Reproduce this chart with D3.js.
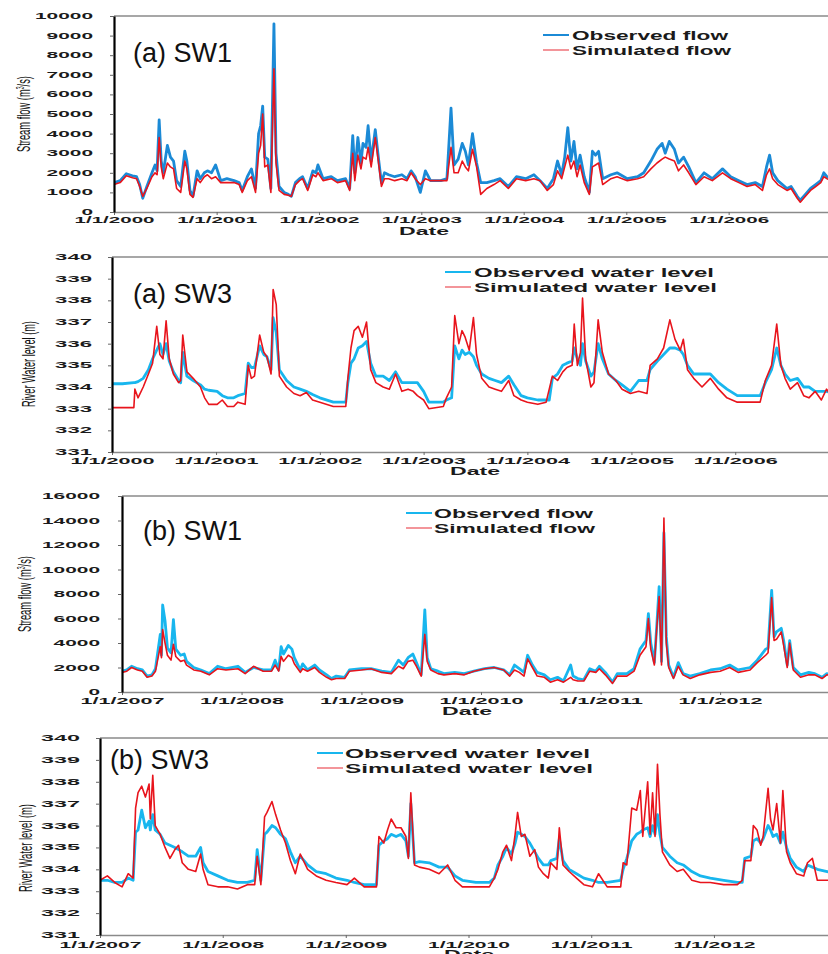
<!DOCTYPE html>
<html>
<head>
<meta charset="utf-8">
<script src="https://cdn.jsdelivr.net/npm/d3@7"></script>
<style>
  body { margin: 0; background: #fff; }
  svg { display: block; }
</style>
</head>
<body>
<svg id="chart" width="828" height="954"></svg>
<script>
// ---- data (decimal years) ----
// (a) SW1 stream flow 2000-2006
const sw1aDates = [
  2000.00,2000.06,2000.12,2000.18,2000.22,2000.25,2000.28,2000.32,2000.37,2000.40,
  2000.42,2000.44,2000.46,2000.48,2000.52,2000.55,2000.58,2000.61,2000.65,2000.69,
  2000.71,2000.74,2000.77,2000.81,2000.84,2000.88,2000.91,2000.95,2000.99,2001.04,
  2001.10,2001.17,2001.22,2001.25,2001.30,2001.34,2001.38,2001.41,2001.43,2001.45,
  2001.47,2001.50,2001.53,2001.56,2001.58,2001.61,2001.66,2001.70,2001.73,2001.77,
  2001.81,2001.84,2001.89,2001.94,2001.97,2001.99,2002.04,2002.12,2002.18,2002.26,
  2002.30,2002.33,2002.35,2002.38,2002.41,2002.43,2002.46,2002.48,2002.51,2002.55,
  2002.58,2002.61,2002.64,2002.68,2002.74,2002.81,2002.86,2002.90,2002.94,2002.99,
  2003.04,2003.09,2003.19,2003.25,2003.29,2003.32,2003.36,2003.40,2003.43,2003.46,
  2003.50,2003.54,2003.58,2003.64,2003.71,2003.77,2003.85,2003.93,2004.02,2004.10,
  2004.16,2004.23,2004.29,2004.33,2004.37,2004.40,2004.43,2004.46,2004.49,2004.52,
  2004.55,2004.59,2004.64,2004.67,2004.70,2004.73,2004.77,2004.85,2004.91,2005.01,
  2005.11,2005.17,2005.24,2005.30,2005.35,2005.38,2005.42,2005.47,2005.51,2005.56,
  2005.61,2005.68,2005.76,2005.84,2005.94,2006.02,2006.10,2006.18,2006.26,2006.33,
  2006.37,2006.40,2006.43,2006.48,2006.57,2006.61,2006.67,2006.70,2006.75,2006.80,
  2006.85,2006.90,2006.93,2006.96,2007.00
]
const sw1aObs = [
  1500,1600,1950,1850,1800,1400,700,1300,2000,2400,
  2100,4700,2600,2000,3400,2800,2600,1600,1300,3100,
  2600,1100,800,2100,1700,2000,2100,2000,2400,1600,
  1700,1600,1500,1100,1800,2200,1200,4000,4400,5400,
  2800,2700,1200,9600,3000,1300,1000,900,800,1500,
  1700,1800,1200,2100,2000,2400,1700,1800,1600,1700,
  1200,3900,2000,3800,2500,3500,3300,4400,2600,4200,
  2800,1500,2000,1900,1800,1900,1700,2100,1800,1000,
  2100,1600,1600,1700,5300,2400,2700,3500,3100,2400,
  4000,2500,1500,1500,1600,1700,1300,1800,1700,1900,
  1600,1200,1700,2600,1900,2800,4300,2600,3600,2200,
  2900,1800,1000,3100,2900,3100,1700,1900,2000,1700,
  1800,2000,2600,3200,3500,3000,3600,3200,2500,2800,
  2300,1500,2000,1700,2200,1800,1600,1400,1500,1300,
  2300,2900,2000,1600,1200,1300,800,600,900,1200,
  1400,1600,2000,1800,1700
]
const sw1aSim = [
  1400,1500,1850,1750,1700,1300,800,1200,1800,2000,
  1900,3800,2300,1700,2500,2300,2200,1200,1000,2600,
  2200,900,750,1700,1500,1800,1900,1700,1800,1500,
  1500,1500,1400,1000,1600,1800,1000,3000,3400,5000,
  2300,2400,1000,7300,2500,1100,900,850,800,1400,
  1600,1700,1100,1900,1800,2000,1600,1700,1500,1600,
  1100,3000,1600,2900,2200,2800,2700,3300,2300,3800,
  2600,1300,1700,1700,1600,1700,1600,2000,1700,1400,
  1700,1600,1600,1600,3300,2000,2000,2600,2300,2100,
  3200,2300,900,1200,1400,1600,1200,1700,1600,1700,
  1600,1100,1400,2100,1700,2300,2900,2200,2600,1800,
  2400,1500,900,2300,2400,2500,1400,1700,1800,1600,
  1700,1800,2200,2500,2700,2800,2700,2600,2100,2400,
  2000,1400,1800,1600,2000,1700,1500,1300,1400,1100,
  1900,2200,1700,1400,1100,1200,700,500,800,1100,
  1300,1500,1800,1700,1600
]

// (a) SW3 river water level 2000-2006
const sw3aDates = [
  2000.00,2000.10,2000.21,2000.22,2000.25,2000.30,2000.35,2000.39,2000.43,2000.46,
  2000.49,2000.52,2000.55,2000.59,2000.64,2000.66,2000.68,2000.72,2000.78,2000.85,
  2000.89,2000.93,2001.01,2001.06,2001.11,2001.17,2001.21,2001.28,2001.31,2001.34,
  2001.37,2001.42,2001.46,2001.49,2001.53,2001.55,2001.58,2001.61,2001.68,2001.75,
  2001.81,2001.87,2001.93,2002.00,2002.13,2002.25,2002.27,2002.30,2002.33,2002.37,
  2002.41,2002.45,2002.49,2002.54,2002.61,2002.67,2002.73,2002.79,2002.85,2002.90,
  2002.94,2003.00,2003.05,2003.19,2003.22,2003.27,2003.30,2003.34,2003.37,2003.40,
  2003.44,2003.48,2003.51,2003.56,2003.63,2003.69,2003.75,2003.82,2003.87,2003.94,
  2004.00,2004.10,2004.18,2004.21,2004.24,2004.29,2004.34,2004.38,2004.43,2004.45,
  2004.48,2004.51,2004.53,2004.56,2004.61,2004.64,2004.68,2004.72,2004.78,2004.85,
  2004.91,2004.99,2005.07,2005.15,2005.18,2005.25,2005.31,2005.37,2005.42,2005.47,
  2005.50,2005.54,2005.60,2005.68,2005.76,2005.84,2005.92,2006.02,2006.11,2006.24,
  2006.29,2006.35,2006.40,2006.44,2006.48,2006.53,2006.60,2006.66,2006.71,2006.77,
  2006.83,2006.88,2006.94,2007.00
]
const sw3aObs = [
  334.15,334.15,334.2,334.2,334.25,334.4,334.8,335.3,335.7,336.0,
  335.5,336.0,335.2,334.7,334.3,334.2,335.6,334.5,334.3,334.1,
  333.9,333.85,333.8,333.6,333.5,333.5,333.6,333.7,335.1,334.9,
  334.9,335.9,335.5,335.4,334.8,337.2,336.5,334.8,334.3,334.0,
  333.9,333.8,333.65,333.5,333.3,333.3,334.2,335.1,335.3,335.8,
  335.9,336.1,335.1,334.5,334.5,334.3,334.7,334.2,334.2,334.2,
  334.2,333.8,333.3,333.3,333.4,333.5,335.9,335.3,335.7,335.5,
  335.6,335.4,335.0,334.6,334.4,334.3,334.2,334.5,334.1,333.6,
  333.5,333.4,333.4,333.4,334.4,334.6,335.0,335.1,335.2,335.8,
  335.3,335.0,336.0,335.2,334.5,334.7,336.0,335.3,334.6,334.3,
  334.1,333.8,334.3,334.3,334.8,335.2,335.5,335.8,335.8,335.7,
  335.5,335.0,334.6,334.6,334.6,334.2,333.9,333.6,333.6,333.6,
  334.2,334.8,335.8,335.0,334.6,334.3,334.4,334.0,334.0,333.8,
  333.8,333.8,333.7,333.7
]
const sw3aSim = [
  333.05,333.05,333.05,333.9,333.5,334.0,334.6,335.1,336.8,335.5,
  335.3,337.05,335.3,334.6,334.2,334.3,336.4,334.7,334.4,334.0,
  333.5,333.2,333.2,333.4,333.1,333.1,333.3,333.2,335.0,334.4,
  334.5,336.4,335.6,335.4,334.6,338.5,337.8,334.5,334.0,333.7,
  333.6,333.75,333.4,333.3,333.1,333.1,334.4,335.8,336.6,336.8,
  336.3,337.0,334.8,334.2,334.0,333.9,334.6,333.8,333.9,333.8,
  333.6,333.4,333.0,333.1,333.5,334.0,337.3,336.0,336.6,336.3,
  335.7,337.2,335.5,334.4,334.0,333.9,333.8,334.3,333.6,333.4,
  333.3,333.2,333.3,333.9,334.5,334.3,334.7,334.9,335.0,336.9,
  335.0,335.6,338.1,335.3,334.0,334.2,337.1,335.6,334.6,334.3,
  333.9,333.7,333.8,333.7,335.0,335.3,335.8,337.1,336.2,335.7,
  336.2,334.8,334.4,334.0,334.4,333.9,333.5,333.3,333.3,333.3,
  334.3,335.0,336.9,335.0,334.4,333.9,334.2,333.6,333.5,333.8,
  333.4,333.9,333.5,333.8
]

// (b) SW1 stream flow 2007-2012
const sw1bDates = [
  2007.00,2007.04,2007.08,2007.13,2007.17,2007.21,2007.25,2007.28,2007.32,2007.33,
  2007.34,2007.36,2007.38,2007.41,2007.43,2007.45,2007.49,2007.52,2007.54,2007.60,
  2007.66,2007.73,2007.80,2007.87,2007.97,2008.03,2008.10,2008.18,2008.25,2008.28,
  2008.31,2008.33,2008.35,2008.39,2008.42,2008.44,2008.49,2008.51,2008.55,2008.61,
  2008.65,2008.71,2008.75,2008.79,2008.86,2008.90,2009.00,2009.08,2009.17,2009.25,
  2009.31,2009.35,2009.39,2009.43,2009.46,2009.50,2009.53,2009.55,2009.58,2009.64,
  2009.69,2009.78,2009.86,2009.94,2010.03,2010.11,2010.19,2010.24,2010.28,2010.32,
  2010.36,2010.39,2010.43,2010.47,2010.53,2010.58,2010.64,2010.69,2010.75,2010.77,
  2010.81,2010.86,2010.91,2010.96,2010.99,2011.04,2011.10,2011.14,2011.22,2011.28,
  2011.33,2011.38,2011.40,2011.42,2011.45,2011.47,2011.49,2011.51,2011.53,2011.55,
  2011.57,2011.61,2011.65,2011.69,2011.75,2011.83,2011.92,2012.00,2012.08,2012.15,
  2012.25,2012.31,2012.38,2012.40,2012.43,2012.45,2012.47,2012.51,2012.53,2012.56,
  2012.58,2012.61,2012.67,2012.74,2012.79,2012.85,2012.89,2012.95,2013.00
]
const sw1bObs = [
  1700,1800,2100,1900,1800,1300,1400,1900,4700,3000,
  7100,5800,3600,3200,5900,3500,3000,3100,2500,2000,
  1800,1500,2100,1900,2100,1600,2000,1800,1800,2600,
  1800,3700,3100,3800,3500,2800,1800,2300,1800,2200,
  1800,1400,1100,1300,1200,1800,1900,1900,1700,1600,
  2600,2200,2800,3100,2400,1400,6700,2800,1900,1700,
  1500,1600,1500,1700,1900,2000,1800,1400,2200,1900,
  1600,3000,2200,1600,1400,1000,1200,900,2200,1300,
  1100,1000,1900,1700,2100,1600,800,1500,1500,1900,
  3500,4200,6400,4000,2400,5400,8600,2500,13000,4500,
  2200,1200,2400,1500,1300,1500,1800,1900,2200,1800,
  2000,2600,3500,3600,8300,4500,4900,5200,4200,2200,
  4200,2000,1400,1600,1500,1200,1500,1400,1500
]
const sw1bSim = [
  1600,1700,2000,1800,1700,1200,1300,1700,3700,2800,
  5100,4000,3000,2600,3900,2900,2500,2600,2200,1800,
  1700,1400,1900,1800,1900,1500,2100,1700,1700,2200,
  1700,2900,2500,3000,2800,2300,1600,1900,1700,2000,
  1600,1200,1000,1100,1100,1700,1800,1900,1600,1500,
  2100,1900,2500,2600,2100,1300,4700,2500,1800,1500,
  1400,1500,1400,1700,1900,2000,1800,1300,1800,1600,
  1300,2700,2000,1300,1200,800,1000,800,1200,1000,
  900,900,1700,1600,1900,1400,700,1300,1300,1700,
  3000,3700,6000,3500,2200,5200,7800,2200,14200,4000,
  2000,1100,2100,1400,1100,1400,1600,1700,2000,1600,
  1800,2400,3000,3200,7700,4200,4300,4900,3800,2000,
  4000,1800,1200,1400,1400,1100,1400,1300,1400
]

// (b) SW3 river water level 2007-2012
const sw3bDates = [
  2007.00,2007.06,2007.12,2007.18,2007.23,2007.27,2007.29,2007.31,2007.34,2007.37,
  2007.40,2007.41,2007.43,2007.45,2007.49,2007.53,2007.57,2007.61,2007.64,2007.67,
  2007.72,2007.78,2007.82,2007.84,2007.88,2007.96,2008.04,2008.12,2008.20,2008.26,
  2008.28,2008.31,2008.34,2008.36,2008.40,2008.43,2008.47,2008.51,2008.55,2008.59,
  2008.63,2008.69,2008.76,2008.84,2008.92,2009.01,2009.07,2009.15,2009.25,2009.27,
  2009.31,2009.34,2009.37,2009.41,2009.45,2009.49,2009.51,2009.53,2009.56,2009.60,
  2009.68,2009.76,2009.83,2009.89,2009.95,2010.06,2010.17,2010.21,2010.24,2010.28,
  2010.31,2010.35,2010.38,2010.40,2010.43,2010.46,2010.50,2010.54,2010.57,2010.61,
  2010.65,2010.67,2010.72,2010.74,2010.77,2010.82,2010.88,2010.94,2011.01,2011.06,
  2011.13,2011.24,2011.26,2011.29,2011.33,2011.37,2011.40,2011.42,2011.46,2011.48,
  2011.50,2011.52,2011.54,2011.56,2011.58,2011.64,2011.70,2011.75,2011.82,2011.89,
  2011.97,2012.08,2012.19,2012.23,2012.25,2012.30,2012.32,2012.35,2012.38,2012.40,
  2012.44,2012.46,2012.48,2012.51,2012.54,2012.56,2012.59,2012.62,2012.67,2012.73,
  2012.76,2012.80,2012.84,2012.92,2013.00
]
const sw3bObs = [
  333.5,333.5,333.4,333.4,333.6,333.5,335.7,335.8,336.7,335.9,
  336.2,335.8,336.5,335.8,335.6,335.2,335.1,335.0,334.9,334.8,
  334.6,334.6,335.0,334.3,333.9,333.7,333.5,333.4,333.4,333.5,
  334.9,333.5,335.6,335.7,336.0,335.9,335.6,335.4,334.8,334.3,
  334.6,334.2,333.9,333.8,333.6,333.5,333.4,333.3,333.3,335.1,
  335.3,335.4,335.6,335.5,335.6,335.3,334.6,337.0,334.3,334.35,
  334.3,334.1,334.1,333.7,333.5,333.4,333.4,333.6,334.2,334.6,
  335.0,334.7,335.2,335.7,335.6,335.5,335.2,334.8,334.5,334.2,
  334.2,334.4,334.5,335.4,334.4,334.0,333.8,333.6,333.5,333.4,
  333.4,333.5,334.0,334.5,335.3,335.6,335.7,335.8,335.9,335.5,
  336.0,335.6,336.5,335.6,335.0,334.6,334.3,334.2,333.9,333.7,
  333.6,333.5,333.4,333.4,334.5,334.6,335.3,335.4,335.2,335.4,
  336.0,335.8,335.5,335.6,335.2,335.7,335.0,334.5,334.1,333.9,
  334.2,334.1,334.0,333.9,333.8
]
const sw3bSim = [
  333.5,333.7,333.4,333.2,333.8,333.6,336.8,337.5,337.8,337.3,
  337.9,336.3,338.3,336.0,335.6,335.0,334.5,334.9,335.1,334.3,
  334.0,333.9,334.7,334.0,333.3,333.2,333.2,333.1,333.3,333.3,
  334.6,333.3,336.4,336.6,337.1,336.5,335.8,335.2,334.4,333.8,
  334.7,334.0,333.7,333.5,333.4,333.3,333.6,333.2,333.2,335.5,
  335.2,335.8,336.3,335.9,335.9,335.5,334.5,337.5,334.2,334.1,
  334.0,333.8,334.2,333.5,333.2,333.2,333.2,333.6,334.0,334.8,
  335.1,334.4,335.6,336.6,335.5,335.6,334.6,334.9,334.1,333.8,
  333.6,334.3,334.0,335.9,334.2,333.9,333.6,333.3,333.2,333.8,
  333.2,333.2,334.3,334.2,336.8,336.7,337.6,335.5,338.0,335.6,
  337.5,335.5,338.8,336.5,334.8,334.2,333.9,334.0,333.5,333.4,
  333.4,333.3,333.3,333.5,334.4,334.4,336.0,335.8,335.1,335.5,
  337.7,336.3,335.8,337.0,335.2,337.6,334.8,334.3,333.8,333.7,
  334.3,334.5,333.5,333.5,333.5
]

// axis ticks / labels
const yearsA = [2000, 2001, 2002, 2003, 2004, 2005, 2006]
const yearsB = [2007, 2008, 2009, 2010, 2011, 2012]
const flowTicksA = [0,1000,2000,3000,4000,5000,6000,7000,8000,9000,10000]
const flowTicksB = [0,2000,4000,6000,8000,10000,12000,14000,16000]
const levelTicks = [331,332,333,334,335,336,337,338,339,340]
const flowNames = ["Observed flow", "Simulated flow"]
const levelNames = ["Observed water level", "Simulated water level"]

// ---- drawing ----
const FONT = "'Liberation Sans', Arial, Helvetica, sans-serif"
const SIM = "#e8141c"
const svg = d3.select("#chart")

let yearToDate = t => {
    let y = Math.floor(t)
    let a = Date.UTC(y, 0, 1), b = Date.UTC(y + 1, 0, 1)
    return new Date(a + (t - y) * (b - a))
}

const panels = [
    { dates: sw1aDates, obs: sw1aObs, sim: sw1aSim, span: [2000, 2007], years: yearsA,
      yDomain: [0, 10000], yTicks: flowTicksA, x0: 114, x1: 831, top: 16, bottom: 212,
      obsColor: "#1b8ad6", title: "(a) SW1", titleX: 133, titleY: 62,
      names: flowNames, legX: 543, legY: 35, legTx: 572, legW: [156, 159],
      yTitle: "flow", yTitleX: 24.5, yTitleY: 114, yTitleW: 76,
      tickPad: 17, yCharW: 11.6, xLabW: 80, labY: 11, dateX: 424, dateY: 235 },
    { dates: sw3aDates, obs: sw3aObs, sim: sw3aSim, span: [2000, 2007], years: yearsA,
      yDomain: [331, 340], yTicks: levelTicks, x0: 112, x1: 839, top: 257, bottom: 452,
      obsColor: "#18b6ee", title: "(a) SW3", titleX: 133, titleY: 303,
      names: levelNames, legX: 445, legY: 272, legTx: 474, legW: [240, 243],
      yTitle: "level", yTitleX: 29, yTitleY: 364, yTitleW: 86,
      tickPad: 16, yCharW: 12.3, xLabW: 84, labY: 12, dateX: 475, dateY: 475 },
    { dates: sw1bDates, obs: sw1bObs, sim: sw1bSim, span: [2007, 2013], years: yearsB,
      yDomain: [0, 16000], yTicks: flowTicksB, x0: 122, x1: 840, top: 496, bottom: 692,
      obsColor: "#18b6ee", title: "(b) SW1", titleX: 143, titleY: 540,
      names: flowNames, legX: 406, legY: 513, legTx: 434, legW: [159, 161],
      yTitle: "flow", yTitleX: 25, yTitleY: 594, yTitleW: 76,
      tickPad: 18, yCharW: 11.6, xLabW: 84, labY: 12, dateX: 467, dateY: 715 },
    { dates: sw3bDates, obs: sw3bObs, sim: sw3bSim, span: [2007, 2013], years: yearsB,
      yDomain: [331, 340], yTicks: levelTicks, x0: 100, x1: 837, top: 738, bottom: 935,
      obsColor: "#18b6ee", title: "(b) SW3", titleX: 110, titleY: 769,
      names: levelNames, legX: 317, legY: 753, legTx: 345, legW: [245, 248],
      yTitle: "level", yTitleX: 26, yTitleY: 848, yTitleW: 88,
      tickPad: 16, yCharW: 13, xLabW: 82, labY: 13, dateX: 469, dateY: 958 }
]

panels.forEach((p, idx) => {
    let g = svg.append("g")
    let x = d3.scaleUtc()
        .domain([yearToDate(p.span[0]), yearToDate(p.span[1])])
        .range([p.x0, p.x1])
    let y = d3.scaleLinear().domain(p.yDomain).range([p.bottom, p.top])

    // clip
    let clipId = "clip" + idx
    g.append("clipPath").attr("id", clipId)
        .append("rect").attr("x", p.x0).attr("y", p.top - 2)
        .attr("width", p.x1 - p.x0).attr("height", p.bottom - p.top + 2)

    // top border
    g.append("line").attr("x1", p.x0).attr("x2", p.x1)
        .attr("y1", p.top).attr("y2", p.top)
        .attr("stroke", "#8a8a8a").attr("stroke-width", 1.5)

    // lines
    let line = d3.line().x(d => x(d.date)).y(d => y(d.v))
    let obsData = p.dates.map((t, i) => ({ date: yearToDate(t), v: p.obs[i] }))
    let simData = p.dates.map((t, i) => ({ date: yearToDate(t), v: p.sim[i] }))
    let lg = g.append("g").attr("clip-path", `url(#${clipId})`)
    lg.append("path").datum(obsData).attr("d", line)
        .attr("fill", "none").attr("stroke", p.obsColor)
        .attr("stroke-width", 2.8).attr("stroke-linejoin", "round")
    lg.append("path").datum(simData).attr("d", line)
        .attr("fill", "none").attr("stroke", SIM)
        .attr("stroke-width", 1.6).attr("stroke-linejoin", "round")

    // x axis
    let ax = g.append("g").attr("transform", `translate(0,${p.bottom})`)
        .call(d3.axisBottom(x)
            .tickValues(p.years.map(yr => yearToDate(yr)))
            .tickFormat(d3.utcFormat("%-m/%-d/%Y"))
            .tickSize(3).tickSizeOuter(0))
    ax.select(".domain").attr("stroke", "#8a8a8a").attr("stroke-width", 1.5)
    ax.selectAll(".tick line").attr("stroke", "#666")
    ax.selectAll("text")
        .attr("y", p.labY).attr("dy", 0)
        .attr("font-family", FONT).attr("font-size", 9.5).attr("font-weight", "bold")
        .attr("fill", "#1a1a1a")
        .attr("textLength", p.xLabW).attr("lengthAdjust", "spacingAndGlyphs")

    // y axis
    let ay = g.append("g").attr("transform", `translate(${p.x0},0)`)
        .call(d3.axisLeft(y).tickValues(p.yTicks).tickFormat(d3.format("d"))
            .tickSize(4).tickSizeOuter(0).tickPadding(p.tickPad))
    ay.select(".domain").attr("stroke", "#000").attr("stroke-width", 2.2)
    ay.selectAll(".tick line").attr("stroke", "#666")
    ay.selectAll("text")
        .attr("dy", "0.28em")
        .attr("font-family", FONT).attr("font-size", 9).attr("font-weight", "bold")
        .attr("fill", "#1a1a1a")
        .attr("textLength", d => String(d).length * p.yCharW)
        .attr("lengthAdjust", "spacingAndGlyphs")

    // x title
    g.append("text").attr("x", p.dateX).attr("y", p.dateY)
        .attr("text-anchor", "middle")
        .attr("font-family", FONT).attr("font-size", 11).attr("font-weight", "bold")
        .attr("fill", "#1a1a1a")
        .attr("textLength", 50).attr("lengthAdjust", "spacingAndGlyphs")
        .text("Date")

    // y title (condensed)
    let yt = g.append("text")
        .attr("font-family", FONT).attr("font-size", 18).attr("fill", "#111")
        .attr("text-anchor", "start")
    if (p.yTitle === "flow") {
        yt.append("tspan").text("Stream flow (m")
        yt.append("tspan").attr("dy", -6).attr("font-size", 10).text("3")
        yt.append("tspan").attr("dy", 6).text("/s)")
    } else {
        yt.text("River Water level (m)")
    }
    let w = yt.node().getComputedTextLength()
    let s = p.yTitleW / w
    yt.attr("transform",
        `translate(${p.yTitleX + 5.5},${p.yTitleY}) rotate(-90) scale(${s},1) translate(${-w / 2},0)`)

    // panel title
    g.append("text").attr("x", p.titleX).attr("y", p.titleY)
        .attr("font-family", FONT).attr("font-size", 27).attr("fill", "#111")
        .text(p.title)

    // legend
    let cols = [p.obsColor, "#f07a80"]
    let widths = [2, 1.6]
    p.names.forEach((name, i) => {
        let ly = p.legY + i * 15
        g.append("line").attr("x1", p.legX).attr("x2", p.legX + 26)
            .attr("y1", ly).attr("y2", ly)
            .attr("stroke", cols[i]).attr("stroke-width", widths[i])
        g.append("text").attr("x", p.legTx).attr("y", ly + 4.5)
            .attr("font-family", FONT).attr("font-size", 12).attr("font-weight", "bold")
            .attr("fill", "#1a1a1a")
            .attr("textLength", p.legW[i]).attr("lengthAdjust", "spacingAndGlyphs")
            .text(name)
    })
})
</script>
</body>
</html>
